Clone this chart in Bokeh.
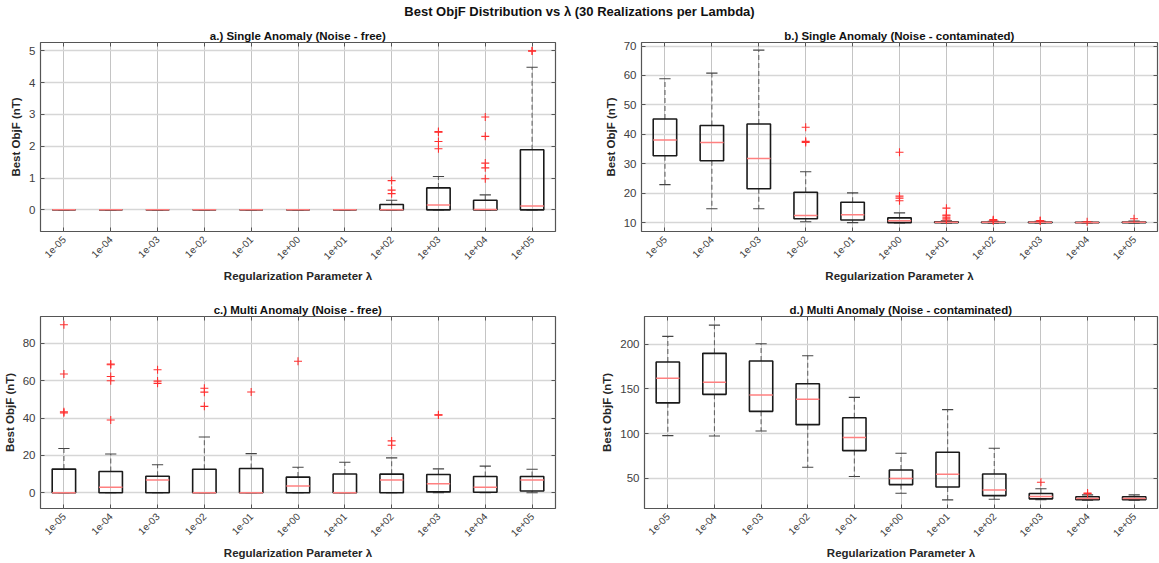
import numpy as np
from bokeh.plotting import figure
from bokeh.models import FixedTicker, LinearAxis, Range1d, Div, ColumnDataSource, CustomJSTickFormatter
from bokeh.layouts import column, row
from bokeh.embed import file_html
from bokeh.resources import INLINE

FONT = "Liberation Sans"

lambdas = ["1e-05", "1e-04", "1e-03", "1e-02", "1e-01", "1e+00",
           "1e+01", "1e+02", "1e+03", "1e+04", "1e+05"]

# ---- a.) Single Anomaly (Noise - free)
a_q1 = [0, 0, 0, 0, 0, 0, 0, 0, 0, 0, 0]
a_med = [0, 0, 0, 0, 0, 0, 0, 0.0, 0.15, 0.01, 0.12]
a_q3 = [0, 0, 0, 0, 0, 0, 0, 0.17, 0.69, 0.30, 1.89]
a_lo = [0, 0, 0, 0, 0, 0, 0, 0, 0, 0, 0]
a_hi = [0, 0, 0, 0, 0, 0, 0, 0.30, 1.05, 0.47, 4.48]
a_out = [[], [], [], [], [], [], [], [0.51, 0.62, 0.92], [1.92, 2.15, 2.44, 2.46],
         [0.98, 1.32, 1.47, 2.31, 2.92], [4.99, 5.0]]

# ---- b.) Single Anomaly (Noise - contaminated)
b_q1 = [32.7, 31.0, 21.5, 11.3, 10.9, 10.0, 10.0, 10.0, 10.0, 10.0, 10.0]
b_med = [38.1, 37.2, 31.8, 12.4, 12.7, 10.6, 10.1, 10.1, 10.1, 10.0, 10.1]
b_q3 = [45.2, 43.0, 43.5, 20.3, 16.9, 11.6, 10.3, 10.2, 10.2, 10.1, 10.2]
b_lo = [22.9, 14.7, 14.7, 10.3, 10.0, 9.9, 9.9, 9.9, 9.9, 9.9, 9.9]
b_hi = [58.9, 60.8, 68.6, 27.3, 20.1, 13.3, 10.6, 10.4, 10.4, 10.2, 10.5]
b_out = [[], [], [], [37.2, 37.6, 42.4], [], [17.4, 18.3, 19.0, 33.9],
         [10.9, 11.3, 11.8, 12.3, 12.6, 14.9], [10.6, 10.8, 11.0], [10.5, 10.7], [10.3], [11.3]]

# ---- c.) Multi Anomaly (Noise - free)
c_q1 = [0, 0, 0, 0, 0, 0, 0, 0, 0.5, 0.3, 1.0]
c_med = [0, 3.0, 6.8, 0, 0, 3.6, 0, 6.9, 4.8, 3.0, 6.9]
c_q3 = [12.7, 11.4, 8.9, 12.6, 13.0, 8.4, 10.1, 10.0, 9.8, 8.7, 8.7]
c_lo = [0, 0, 0, 0, 0, 0, 0, 0, 0, 0, 0]
c_hi = [23.7, 20.8, 15.0, 29.9, 21.0, 13.7, 16.4, 18.7, 12.8, 14.3, 12.6]
c_out = [[42.8, 43.4, 63.6, 90.0], [39.0, 60.0, 62.3, 68.6, 69.0], [58.6, 59.8, 65.9],
         [46.3, 53.9, 56.0], [54.0], [70.4], [], [25.5, 27.8], [41.6, 41.8], [], []]

# ---- d.) Multi Anomaly (Noise - contaminated)
d_q1 = [134.3, 143.8, 124.8, 109.9, 80.9, 42.9, 40.3, 30.6, 27.0, 26.0, 26.0]
d_med = [161.7, 157.2, 143.1, 138.4, 95.5, 49.6, 54.5, 37.0, 29.6, 27.3, 27.3]
d_q3 = [179.9, 189.6, 181.0, 155.7, 117.7, 59.3, 79.0, 54.8, 33.0, 29.3, 29.3]
d_lo = [97.6, 97.3, 102.9, 62.3, 51.9, 33.3, 25.8, 26.6, 25.9, 25.5, 25.5]
d_hi = [208.6, 221.2, 200.4, 187.0, 140.4, 77.9, 126.7, 83.5, 38.2, 31.4, 31.4]
d_out = [[], [], [], [], [], [], [], [], [45.5], [32.8, 33.6], []]

y_ticks_a = [0, 1, 2, 3, 4, 5]
y_ticks_b = [10, 20, 30, 40, 50, 60, 70]
y_ticks_c = [0, 20, 40, 60, 80]
y_ticks_d = [50, 100, 150, 200]

TXT = "#404040"
AX = "#555555"


def style_axis(ax, ticker):
    ax.ticker = ticker
    ax.axis_line_color = None
    ax.major_tick_in = 4
    ax.major_tick_out = 0
    ax.minor_tick_in = 0
    ax.minor_tick_out = 0
    ax.major_tick_line_color = AX
    ax.major_label_text_font = FONT
    ax.major_label_text_color = TXT


def mirror_axis(ticker):
    ax = LinearAxis()
    style_axis(ax, ticker)
    ax.formatter = CustomJSTickFormatter(code="return '';")
    ax.major_label_standoff = 0
    return ax


def make_panel(title, q1, med, q3, lo, hi, outs, yr, yticks,
               width, height, mbl, mbr, mbt, mbb):
    n = len(lambdas)
    xs = list(range(1, n + 1))
    p = figure(width=width, height=height,
               x_range=Range1d(0.5, n + 0.5), y_range=Range1d(*yr),
               output_backend="svg", toolbar_location=None,
               min_border_left=mbl, min_border_right=mbr,
               min_border_top=mbt, min_border_bottom=mbb)
    p.title.text = title
    p.title.align = "center"
    p.title.text_font = FONT
    p.title.text_font_size = "11.5px"
    p.title.text_font_style = "bold"
    p.title.text_color = "#111111"
    p.title.standoff = 2
    p.title.offset = 0
    p.outline_line_color = AX
    p.outline_line_width = 1.2
    p.background_fill_color = "white"
    p.border_fill_color = "white"

    xt = FixedTicker(ticks=xs)
    yt = FixedTicker(ticks=yticks)
    style_axis(p.xaxis[0], xt)
    style_axis(p.yaxis[0], yt)
    p.xaxis[0].major_label_overrides = {x: lab for x, lab in zip(xs, lambdas)}
    p.xaxis[0].major_label_orientation = np.pi / 4
    p.xaxis[0].major_label_text_font_size = "10px"
    p.xaxis[0].major_label_standoff = 6
    p.yaxis[0].major_label_text_font_size = "11.5px"
    p.yaxis[0].major_label_standoff = 5
    p.xaxis[0].axis_label = "Regularization Parameter λ"
    p.yaxis[0].axis_label = "Best ObjF (nT)"
    for ax in (p.xaxis[0], p.yaxis[0]):
        ax.axis_label_text_font = FONT
        ax.axis_label_text_font_size = "11.5px"
        ax.axis_label_text_font_style = "bold"
        ax.axis_label_text_color = "#262626"
        ax.axis_label_standoff = 4

    # mirrored inward ticks on the right and top edges
    p.add_layout(mirror_axis(yt), "right")
    p.add_layout(mirror_axis(xt), "above")

    p.xgrid.grid_line_color = "#c4c4c4"
    p.xgrid.grid_line_width = 1
    p.ygrid.grid_line_color = "#d6d6d6"
    p.ygrid.grid_line_width = 1.3

    src = ColumnDataSource(dict(
        x=xs,
        left=[x - 0.25 for x in xs], right=[x + 0.25 for x in xs],
        cl=[x - 0.12 for x in xs], cr=[x + 0.12 for x in xs],
        q1=q1, med=med, q3=q3, lo=lo, hi=hi))

    # whiskers
    p.segment(x0="x", y0="q3", x1="x", y1="hi", source=src,
              line_color="#666666", line_width=1.1, line_dash="5 3")
    p.segment(x0="x", y0="q1", x1="x", y1="lo", source=src,
              line_color="#666666", line_width=1.1, line_dash="5 3")
    # caps
    p.segment(x0="cl", y0="hi", x1="cr", y1="hi", source=src,
              line_color="#444444", line_width=1.1)
    p.segment(x0="cl", y0="lo", x1="cr", y1="lo", source=src,
              line_color="#444444", line_width=1.1)
    # boxes
    p.quad(left="left", right="right", bottom="q1", top="q3", source=src,
           fill_color=None, line_color="#1a1a1a", line_width=1.6)
    # medians
    p.segment(x0="left", y0="med", x1="right", y1="med", source=src,
              line_color="#ff8080", line_width=1.5)
    # outliers
    ox, oy = [], []
    for x, vals in zip(xs, outs):
        for v in vals:
            ox.append(x)
            oy.append(v)
    p.scatter(ox, oy, marker="cross", size=8, line_color="#ff3030", line_width=1.1)
    return p


pa = make_panel("a.) Single Anomaly (Noise - free)", a_q1, a_med, a_q3, a_lo, a_hi, a_out,
                (-0.68, 5.26), y_ticks_a, 598, 265, 40, 43, 22, 52)
pb = make_panel("b.) Single Anomaly (Noise - contaminated)", b_q1, b_med, b_q3, b_lo, b_hi, b_out,
                (6.97, 71.2), y_ticks_b, 561, 265, 43, 2, 22, 52)
pc = make_panel("c.) Multi Anomaly (Noise - free)", c_q1, c_med, c_q3, c_lo, c_hi, c_out,
                (-8.4, 94.4), y_ticks_c, 598, 278, 40, 43, 31, 55)
pd = make_panel("d.) Multi Anomaly (Noise - contaminated)", d_q1, d_med, d_q3, d_lo, d_hi, d_out,
                (16.2, 230.8), y_ticks_d, 561, 278, 43, 2, 31, 55)

head = Div(text="Best ObjF Distribution vs λ (30 Realizations per Lambda)",
           width=1159, height=20, margin=(0, 0, 0, 0),
           styles={"font-family": FONT, "font-size": "13px", "font-weight": "bold",
                   "text-align": "center", "width": "1159px", "line-height": "24px",
                   "color": "#111111"})

layout = column(head, row(pa, pb, spacing=0), row(pc, pd, spacing=0), spacing=0)

with open("out.html", "w") as f:
    f.write(file_html(layout, INLINE))
